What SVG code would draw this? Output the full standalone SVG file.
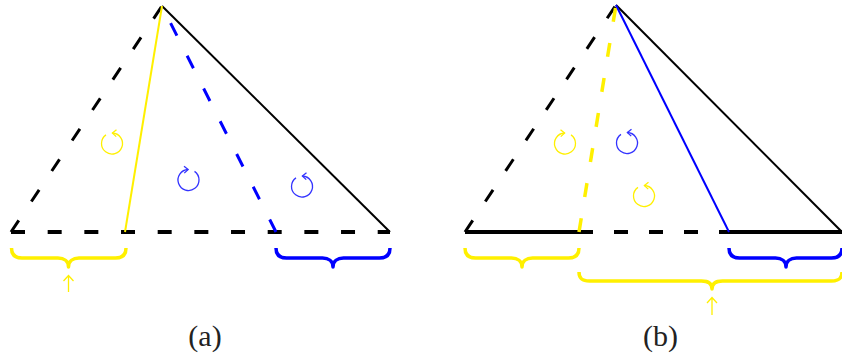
<svg xmlns="http://www.w3.org/2000/svg" width="842" height="360" viewBox="0 0 842 360">
<defs>
<style>
.blk{stroke:#000;fill:none}
.yl{stroke:#fff000;fill:none}
.bl{stroke:#0000ff;fill:none}
.thin{stroke-width:2}
.base{stroke-width:4}
.side{stroke-width:3}
.brace{stroke-width:3.5;stroke-linejoin:round}
.rot{stroke-width:1.3;fill:none}
.lbl{font-family:"Liberation Serif","Times New Roman",serif;font-size:30px;fill:#222;text-anchor:middle}
</style>
<marker id="hy" viewBox="-6 -5 8 10" markerWidth="8" markerHeight="10" markerUnits="userSpaceOnUse" refX="0" refY="0" orient="auto">
<path d="M-4,-3.5 L0,0 L-4,3.5" fill="none" stroke="#fff000" stroke-width="1.3"/>
</marker>
<marker id="hb" viewBox="-6 -5 8 10" markerWidth="8" markerHeight="10" markerUnits="userSpaceOnUse" refX="0" refY="0" orient="auto">
<path d="M-4,-3.5 L0,0 L-4,3.5" fill="none" stroke="#3333ff" stroke-width="1.3"/>
</marker>
</defs>
<rect width="842" height="360" fill="#fff"/>

<g id="panel-a">
<g id="a-edges">
<path class="blk base" d="M11,232 L390,232" stroke-dasharray="14 22.67"/>
<path class="blk side" d="M11,232 L162,6" stroke-dasharray="14 22.67"/>
<path class="blk thin" d="M162,6 L390,232"/>
<path class="yl thin" d="M162,6 L125,232"/>
<path class="bl side" d="M276,232 L162,6" stroke-dasharray="14 22.67"/>
</g>
<g id="a-rotations">
<path class="rot" stroke="#fff000" marker-end="url(#hy)" d="M105.98,134.9 A10.5 10.5 0 1 0 112.37,133.01"/>
<path class="rot" stroke="#3333ff" marker-end="url(#hb)" d="M194.52,171.4 A10.5 10.5 0 1 1 188.13,169.51"/>
<path class="rot" stroke="#3333ff" marker-end="url(#hb)" d="M295.98,177.9 A10.5 10.5 0 1 0 302.37,176.01"/>
</g>
<g id="a-braces">
<path class="yl brace" d="M11.5,248 C11.5,254 14,258 22,258 L58,258 C64,258 68.5,261 68.5,267 C68.5,261 73,258 79,258 L115.5,258 C123.5,258 126,254 126,248"/>
<path class="bl brace" d="M276,248 C276,254 278.5,258 286.5,258 L322.5,258 C328.5,258 333,261 333,267 C333,261 337.5,258 343.5,258 L379.5,258 C387.5,258 390,254 390,248"/>
<path class="yl" stroke-width="1.3" d="M68.5,292 L68.5,275.5 M63.5,281 L68.5,275.5 L73.5,281"/>
</g>
<text class="lbl" x="205" y="346">(a)</text>
</g>

<g id="panel-b">
<g id="b-edges">
<path class="blk base" d="M465,232 L579,232"/>
<path class="blk base" d="M579,232 L729,232" stroke-dasharray="14 21"/>
<path class="blk base" d="M729,232 L842,232"/>
<path class="blk side" d="M465,232 L616,5" stroke-dasharray="14 22.67"/>
<path class="blk thin" d="M616,5 L842,232"/>
<path class="yl" stroke-width="3.5" d="M579,232 L616,5" stroke-dasharray="14 21.5"/>
<path class="bl thin" d="M616,5 L729,232"/>
</g>
<g id="b-rotations">
<path class="rot" stroke="#fff000" marker-end="url(#hy)" d="M571.02,134.9 A10.5 10.5 0 1 1 564.63,133.01"/>
<path class="rot" stroke="#3333ff" marker-end="url(#hb)" d="M620.98,134.4 A10.5 10.5 0 1 0 627.37,132.51"/>
<path class="rot" stroke="#fff000" marker-end="url(#hy)" d="M637.98,187.4 A10.5 10.5 0 1 0 644.37,185.51"/>
</g>
<g id="b-braces">
<path class="yl brace" d="M465,248 C465,254 467.5,258 475.5,258 L511.5,258 C517.5,258 522,261 522,267 C522,261 526.5,258 532.5,258 L568.5,258 C576.5,258 579,254 579,248"/>
<path class="bl brace" d="M729,248 C729,254 731.5,258 739.5,258 L775.5,258 C781.5,258 786,261 786,267 C786,261 790.5,258 796.5,258 L831.5,258 C839.5,258 842,254 842,248"/>
<path class="yl brace" d="M579,272 C579,278 581.5,281 589.5,281 L701.5,281 C707.5,281 712,283 712,289 C712,283 716.5,281 722.5,281 L831.5,281 C839.5,281 842,278 842,272"/>
<path class="yl" stroke-width="1.3" d="M712,315 L712,297.5 M707,303 L712,297.5 L717,303"/>
</g>
<text class="lbl" x="660.5" y="346">(b)</text>
</g>
</svg>
